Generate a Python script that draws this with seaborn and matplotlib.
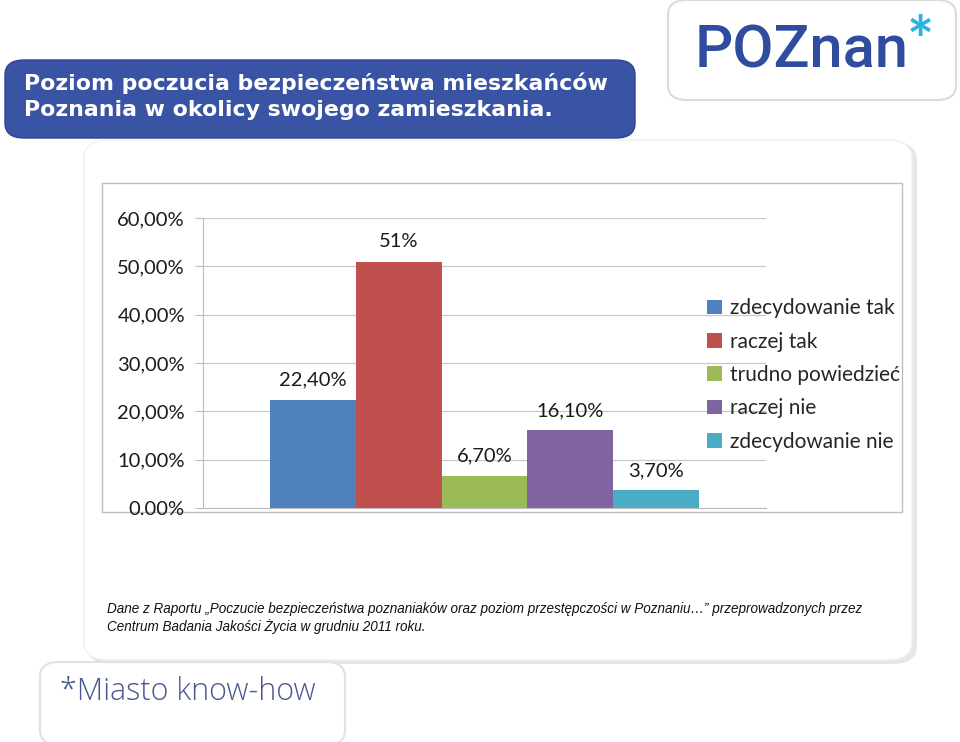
import numpy as np
import pandas as pd
import seaborn as sns
import matplotlib.pyplot as plt
from matplotlib.patches import FancyBboxPatch, Rectangle, Patch
from matplotlib.ticker import FixedLocator, FixedFormatter

# dane
odpowiedzi = ["zdecydowanie tak", "raczej tak", "trudno powiedzieć", "raczej nie", "zdecydowanie nie"]
wartosci = [0.224, 0.51, 0.067, 0.161, 0.037]
etykiety = ["22,40%", "51%", "6,70%", "16,10%", "3,70%"]
kolory = ["#4f81bd", "#c0504d", "#9bbb59", "#8064a2", "#4bacc6"]
y_ticks = [0.0, 0.1, 0.2, 0.3, 0.4, 0.5, 0.6]
y_labels = ["0.00%", "10,00%", "20,00%", "30,00%", "40,00%", "50,00%", "60,00%"]

tytul = "Poziom poczucia bezpieczeństwa mieszkańców\nPoznania w okolicy swojego zamieszkania."
przypis = ("Dane z Raportu \u201ePoczucie bezpieczeństwa poznaniaków oraz poziom przestępczości w Poznaniu\u2026\u201d przeprowadzonych przez\n"
           "Centrum Badania Jakości Życia w grudniu 2011 roku.")

sns.set_style("white")
plt.rcParams["font.family"] = ["Lato", "DejaVu Sans"]

W, H = 960, 742
fig = plt.figure(figsize=(W / 100, H / 100), dpi=100)
fig.patch.set_facecolor("white")


def fx(px):
    return px / W


def fy(py):
    return 1 - py / H


# panel w tle (cień + zaokrąglone rogi)
fig.patches.append(FancyBboxPatch((fx(87), fy(664)), fx(830), (664 - 142) / H,
                                  boxstyle="round,pad=0,rounding_size=0.025",
                                  transform=fig.transFigure, facecolor="#e6e6e6",
                                  edgecolor="none", zorder=0))
fig.patches.append(FancyBboxPatch((fx(84), fy(660)), fx(828), (660 - 140) / H,
                                  boxstyle="round,pad=0,rounding_size=0.025",
                                  transform=fig.transFigure, facecolor="white",
                                  edgecolor="#f0f0f0", lw=1, zorder=0))
# ramka wykresu
fig.patches.append(Rectangle((fx(102), fy(512)), fx(800), (512 - 183) / H,
                             transform=fig.transFigure, facecolor="white",
                             edgecolor="#bdbdbd", lw=1, zorder=1))

# tytuł w niebieskim pasku
fig.patches.append(FancyBboxPatch((fx(5), fy(138)), fx(630), (138 - 60) / H,
                                  boxstyle="round,pad=0,rounding_size=0.02",
                                  transform=fig.transFigure, facecolor="#3a54a5",
                                  edgecolor="#2c4390", lw=1, zorder=2))
fig.text(fx(24), fy(96), tytul, color="white", fontsize=15.8, fontweight="bold",
         family="DejaVu Sans", va="center", ha="left", linespacing=1.4, zorder=3)

# logo POZnan
fig.patches.append(FancyBboxPatch((fx(668), fy(100)), fx(288), 100 / H,
                                  boxstyle="round,pad=0,rounding_size=0.02",
                                  transform=fig.transFigure, facecolor="white",
                                  edgecolor="#dcdcdc", lw=1.5, zorder=2))
fig.text(fx(695), fy(51), "POZnan", color="#2f4c9f", fontsize=43, fontweight="medium",
         family="Roboto", va="center", ha="left", zorder=3)
fig.text(fx(920), fy(45), "*", color="#2ab3e0", fontsize=46, fontweight="bold",
         va="center", ha="center", zorder=3)

# logo Miasto know-how
fig.patches.append(FancyBboxPatch((fx(40), fy(745)), fx(305), (745 - 662) / H,
                                  boxstyle="round,pad=0,rounding_size=0.02",
                                  transform=fig.transFigure, facecolor="white",
                                  edgecolor="#e2e2e2", lw=1.5, zorder=2))
fig.text(fx(60), fy(692), "*Miasto know-how", color="#4a5890", fontsize=22,
         family="Open Sans", fontweight="light", va="center", ha="left", zorder=3)

# wykres słupkowy
ax = fig.add_axes([fx(203), fy(508), fx(766 - 203), (508 - 218) / H])
ax.set_zorder(4)
ax.patch.set_alpha(0)
df = pd.DataFrame({"grupa": [""] * len(odpowiedzi), "odpowiedz": odpowiedzi, "wartosc": wartosci})
sns.barplot(data=df, x="grupa", y="wartosc", hue="odpowiedz", hue_order=odpowiedzi,
            palette=kolory, width=0.763, gap=0, saturation=1, legend=False,
            linewidth=0, edgecolor="none", ax=ax)

for cont, lab in zip(ax.containers, etykiety):
    ax.bar_label(cont, labels=[lab], padding=8, fontsize=14.5, color="#1a1a1a")

ax.set_ylim(0, 0.6)
ax.set_xlim(-0.5, 0.5)
ax.yaxis.set_major_locator(FixedLocator(y_ticks))
ax.yaxis.set_major_formatter(FixedFormatter(y_labels))
ax.tick_params(axis="y", labelsize=14.5, length=6, color="#bdbdbd", pad=7, labelcolor="#1a1a1a", left=True)
ax.set_xticks([])
ax.set_xlabel("")
ax.set_ylabel("")
ax.grid(axis="y", color="#c8c8c8", lw=0.9)
ax.set_axisbelow(True)
for s in ["top", "right"]:
    ax.spines[s].set_visible(False)
ax.spines["left"].set_color("#bdbdbd")
ax.spines["bottom"].set_color("#bdbdbd")

uchwyty = [Patch(facecolor=c, edgecolor="none", label=o) for c, o in zip(kolory, odpowiedzi)]
fig.legend(handles=uchwyty, loc="upper left", bbox_to_anchor=(fx(699), fy(290)),
           frameon=False, fontsize=15, handlelength=0.7, handleheight=0.7,
           handletextpad=0.4, labelspacing=0.64, borderaxespad=0)

# przypis
fig.text(fx(107), fy(618), przypis, fontsize=9.75, style="italic", family="Liberation Sans",
         va="center", ha="left", color="#111111", linespacing=1.3, zorder=5)

fig.savefig("out.png", dpi=100)
